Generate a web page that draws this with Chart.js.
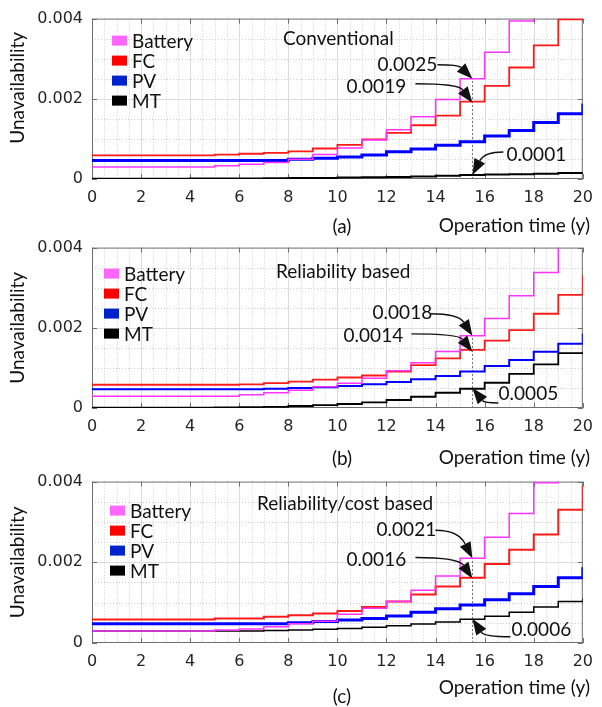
<!DOCTYPE html>
<html>
<head>
<meta charset="utf-8">
<script src="https://cdn.jsdelivr.net/npm/chart.js@4.4.1/dist/chart.umd.min.js"></script>
<style>
  html, body { margin: 0; padding: 0; background: #fff; }
  #page { position: relative; width: 602px; height: 707px; overflow: hidden; }
  #page canvas { position: absolute; left: 0; }
</style>
</head>
<body>
<div id="page">
  <canvas id="ca" width="602" height="244" style="top:0px"></canvas>
  <canvas id="cb" width="602" height="244" style="top:229px"></canvas>
  <canvas id="cc" width="602" height="244" style="top:463px"></canvas>
</div>
<script>
// Unavailability of each unit vs operation time, three maintenance strategies.
// Step values hold from year k to year k+1.
const years = [0, 1, 2, 3, 4, 5, 6, 7, 8, 9, 10, 11, 12, 13, 14, 15, 16, 17, 18, 19, 20];
const seriesNames = ["Battery", "FC", "PV", "MT"];
const xTicks = [0, 2, 4, 6, 8, 10, 12, 14, 16, 18, 20];
const xTickLabels = ["0", "2", "4", "6", "8", "10", "12", "14", "16", "18", "20"];
const yTicks = [0, 0.002, 0.004];
const yTickLabels = ["0", "0.002", "0.004"];
const panelTitles = ["Conventional", "Reliability based", "Reliability/cost based"];
const panelTags = ["(a)", "(b)", "(c)"];
const markYear = 15.5;

// (a) conventional
const batteryA = [0.00030, 0.00030, 0.00030, 0.00030, 0.00030, 0.00033, 0.00037, 0.00041, 0.00049, 0.00061, 0.00077, 0.00097, 0.00123, 0.00155, 0.00198, 0.00250, 0.00316, 0.00394, 0.00480];
const fcA = [0.00059, 0.00059, 0.00059, 0.00059, 0.00059, 0.00061, 0.00063, 0.00065, 0.00069, 0.00076, 0.00085, 0.00099, 0.00115, 0.00134, 0.00158, 0.00193, 0.00232, 0.00278, 0.00333, 0.00398, 0.00460];
const pvA = [0.00046, 0.00046, 0.00046, 0.00046, 0.00046, 0.00046, 0.00046, 0.00046, 0.00049, 0.00052, 0.00055, 0.00060, 0.00068, 0.00075, 0.00084, 0.00093, 0.00107, 0.00121, 0.00141, 0.00163, 0.00188];
const mtA = [0.000005, 0.000006, 0.000007, 0.000008, 0.00001, 0.000012, 0.000015, 0.000018, 0.000022, 0.000028, 0.000035, 0.000043, 0.000052, 0.000065, 0.00008, 0.0001, 0.00011, 0.00012, 0.00013, 0.00015, 0.00017];
const marksA = [0.0025, 0.0019, 0.0001];
const markLabelsA = ["0.0025", "0.0019", "0.0001"];

// (b) reliability based
const batteryB = [0.00029, 0.00029, 0.00029, 0.00029, 0.00029, 0.00029, 0.00033, 0.00038, 0.00044, 0.00053, 0.00062, 0.00074, 0.00093, 0.00113, 0.00141, 0.00180, 0.00223, 0.00280, 0.00338, 0.00460];
const fcB = [0.00058, 0.00058, 0.00058, 0.00058, 0.00058, 0.00058, 0.00059, 0.00062, 0.00066, 0.00071, 0.00076, 0.00081, 0.00091, 0.00107, 0.00124, 0.00145, 0.00168, 0.00194, 0.00235, 0.00282, 0.00331];
const pvB = [0.00047, 0.00047, 0.00047, 0.00047, 0.00047, 0.00047, 0.00047, 0.00048, 0.00050, 0.00052, 0.00055, 0.00059, 0.00065, 0.00072, 0.00080, 0.00091, 0.00105, 0.00120, 0.00140, 0.00160, 0.00186];
const mtB = [0.00001, 0.00001, 0.00001, 0.00001, 0.00001, 0.000015, 0.00002, 0.00003, 0.00005, 0.00007, 0.00010, 0.00014, 0.00020, 0.00028, 0.00038, 0.00048, 0.00063, 0.00085, 0.00109, 0.00137, 0.00140];
const marksB = [0.0018, 0.0014, 0.0005];
const markLabelsB = ["0.0018", "0.0014", "0.0005"];

// (c) reliability/cost based
const batteryC = [0.00030, 0.00030, 0.00030, 0.00030, 0.00030, 0.00032, 0.00035, 0.00040, 0.00048, 0.00054, 0.00071, 0.00086, 0.00103, 0.00131, 0.00166, 0.00210, 0.00262, 0.00321, 0.00397, 0.00480];
const fcC = [0.00058, 0.00058, 0.00058, 0.00058, 0.00058, 0.00061, 0.00061, 0.00065, 0.00069, 0.00073, 0.00079, 0.00089, 0.00103, 0.00120, 0.00140, 0.00162, 0.00196, 0.00231, 0.00269, 0.00330, 0.00390];
const pvC = [0.00048, 0.00048, 0.00048, 0.00048, 0.00048, 0.00048, 0.00048, 0.00048, 0.00050, 0.00053, 0.00057, 0.00061, 0.00067, 0.00076, 0.00085, 0.00094, 0.00107, 0.00122, 0.00140, 0.00162, 0.00188];
const mtC = [0.00030, 0.00030, 0.00030, 0.00030, 0.00030, 0.00030, 0.00030, 0.00031, 0.00032, 0.00034, 0.00036, 0.00039, 0.00043, 0.00047, 0.00052, 0.00059, 0.00066, 0.00076, 0.00089, 0.00103, 0.00110];
const marksC = [0.0021, 0.0016, 0.0006];
const markLabelsC = ["0.0021", "0.0016", "0.0006"];

const lineColors = ["#ff33ff", "#ff1a1a", "#0000ff", "#000000"];
const patchColors = ["#ff66ff", "#ff0000", "#0022cc", "#000000"];
const TEXT = "19px Lato";

// layout per panel: offsets are px relative to the plot box
const panels = [
  { canvas: "ca", series: [batteryA, fcA, pvA, mtA], widths: [1.5, 1.8, 3, 2], plotBottom: 179,
    marks: marksA, markLabels: markLabelsA,
    markOffsets: [[-65, -14, -35, -14], [-96, -16, -57, -19], [64, -20, 31, -23]],
    titleAt: [283, 20], legendAt: [112, 22], yTitleShift: -11, xTitleDy: 47, tagDy: 48 },
  { canvas: "cb", series: [batteryB, fcB, pvB, mtB], widths: [1.5, 1.8, 2, 1.8], plotBottom: 179,
    marks: marksB, markLabels: markLabelsB,
    markOffsets: [[-70, -23, -42, -22], [-99, -16, -61, -18], [56, 6, 26, 15]],
    titleAt: [276, 24], legendAt: [104, 26], yTitleShift: 0, xTitleDy: 50, tagDy: 51 },
  { canvas: "cc", series: [batteryC, fcC, pvC, mtC], widths: [1.5, 2, 3, 1.5], plotBottom: 180,
    marks: marksC, markLabels: markLabelsC,
    markOffsets: [[-66, -28, -37, -28], [-96, -19, -57, -21], [69, 11, 38, 18]],
    titleAt: [257, 22], legendAt: [110, 29], yTitleShift: 0, xTitleDy: 45, tagDy: 54 },
];

function seg(ctx, x1, y1, x2, y2) {
  ctx.beginPath(); ctx.moveTo(x1, y1); ctx.lineTo(x2, y2); ctx.stroke();
}

function arrow(ctx, sx, sy, tx, ty) {
  const cx = tx + (sx > tx ? 12 : -14);
  const cy = sy;
  const ang = Math.atan2(ty - cy, tx - cx);
  const L = 16, W = 6;
  const bx = tx - L * Math.cos(ang), by = ty - L * Math.sin(ang);
  ctx.beginPath(); ctx.moveTo(sx, sy); ctx.quadraticCurveTo(cx, cy, bx, by); ctx.stroke();
  ctx.beginPath();
  ctx.moveTo(tx, ty);
  ctx.lineTo(bx + W * Math.sin(ang), by - W * Math.cos(ang));
  ctx.lineTo(bx - W * Math.sin(ang), by + W * Math.cos(ang));
  ctx.closePath(); ctx.fill();
}

const deco = {
  id: "deco",
  beforeDatasetsDraw(chart, args, o) {
    const { ctx, chartArea: ca, scales: { x, y } } = chart;
    ctx.save();
    ctx.lineWidth = 1;
    // minor grid, dotted
    ctx.strokeStyle = "#cdcdcd";
    ctx.setLineDash([1, 2]);
    for (let v = 0.5; v < 20; v += 0.5) {
      if (v % 2 === 0) continue;
      const px = Math.round(x.getPixelForValue(v)) + 0.5;
      seg(ctx, px, ca.top, px, ca.bottom);
    }
    for (let k = 1; k < 8; k++) {
      if (k === 4) continue;
      const py = Math.round(y.getPixelForValue(k * 0.0005)) + 0.5;
      seg(ctx, ca.left, py, ca.right, py);
    }
    // major grid
    ctx.setLineDash([]);
    ctx.strokeStyle = "#dcdcdc";
    for (let v = 2; v < 20; v += 2) {
      const px = Math.round(x.getPixelForValue(v)) + 0.5;
      seg(ctx, px, ca.top, px, ca.bottom);
    }
    const pmid = Math.round(y.getPixelForValue(0.002)) + 0.5;
    seg(ctx, ca.left, pmid, ca.right, pmid);
    // guide at the marked year
    ctx.strokeStyle = "#777";
    ctx.setLineDash([2, 2]);
    const gx = Math.round(x.getPixelForValue(markYear)) + 0.5;
    seg(ctx, gx, y.getPixelForValue(0), gx, y.getPixelForValue(Math.max(...o.marks)));
    // frame and inward ticks
    ctx.setLineDash([]);
    ctx.strokeStyle = "#6e6e6e";
    ctx.strokeRect(ca.left + 0.5, ca.top + 0.5, ca.width - 1, ca.height - 1);
    xTicks.forEach((v) => {
      const px = Math.round(x.getPixelForValue(v)) + 0.5;
      seg(ctx, px, ca.bottom, px, ca.bottom - 5);
      seg(ctx, px, ca.top, px, ca.top + 5);
    });
    yTicks.forEach((v) => {
      const py = Math.round(y.getPixelForValue(v)) + 0.5;
      seg(ctx, ca.left, py, ca.left + 5, py);
      seg(ctx, ca.right, py, ca.right - 5, py);
    });
    ctx.restore();
  },
  afterDraw(chart, args, o) {
    const { ctx, chartArea: ca, scales: { x, y } } = chart;
    ctx.save();
    ctx.fillStyle = "#111";
    ctx.strokeStyle = "#111";
    ctx.font = TEXT;
    ctx.textBaseline = "middle";
    // annotations with curved arrows
    ctx.lineWidth = 1.4;
    const tx = x.getPixelForValue(markYear);
    o.marks.forEach((v, i) => {
      const ty = y.getPixelForValue(v);
      const [dx, dy, sx, sy] = o.markOffsets[i];
      ctx.textAlign = "center";
      ctx.fillText(o.markLabels[i], tx + dx, ty + dy);
      arrow(ctx, tx + sx, ty + sy, tx, ty);
    });
    // panel title
    ctx.textAlign = "left";
    ctx.fillText(o.title, o.titleAt[0], ca.top + o.titleAt[1]);
    // legend
    chart.data.datasets.forEach((ds, i) => {
      const ly = ca.top + o.legendAt[1] + i * 20;
      ctx.fillStyle = ds.patchColor;
      ctx.fillRect(o.legendAt[0], ly - 5, 15, 10);
      ctx.fillStyle = "#111";
      ctx.fillText(ds.label, o.legendAt[0] + 20, ly + 1);
    });
    // axis titles and tag
    ctx.textAlign = "right";
    ctx.fillText("Operation time (y)", 590, ca.bottom + o.xTitleDy);
    ctx.textAlign = "center";
    ctx.fillText(o.tag, 342, ca.bottom + o.tagDy);
    ctx.translate(18, (ca.top + ca.bottom) / 2 + o.yTitleShift);
    ctx.rotate(-Math.PI / 2);
    ctx.fillText("Unavailability", 0, 0);
    ctx.restore();
  },
};

panels.forEach((p, pi) => {
  const datasets = p.series.map((vals, si) => ({
    label: seriesNames[si],
    data: vals.map((v, k) => ({ x: years[k], y: v })),
    borderColor: lineColors[si],
    patchColor: patchColors[si],
    borderWidth: p.widths[si],
    stepped: "before",
    pointRadius: 0,
    fill: false,
  }));
  new Chart(document.getElementById(p.canvas), {
    type: "line",
    data: { datasets },
    options: {
      responsive: false,
      animation: false,
      layout: { padding: { top: 15, right: 11, left: 0, bottom: 0 } },
      plugins: {
        legend: { display: false },
        tooltip: { enabled: false },
        deco: {
          marks: p.marks, markLabels: p.markLabels, markOffsets: p.markOffsets,
          title: panelTitles[pi], tag: panelTags[pi], titleAt: p.titleAt, legendAt: p.legendAt,
          yTitleShift: p.yTitleShift, xTitleDy: p.xTitleDy, tagDy: p.tagDy,
        },
      },
      scales: {
        x: {
          type: "linear", min: 0, max: 20,
          afterBuildTicks: (s) => { s.ticks = xTicks.map((v) => ({ value: v })); },
          afterFit: (s) => { s.height = 244 - p.plotBottom; },
          ticks: { font: { family: "DejaVu Sans", size: 16 }, color: "#262626", padding: 9,
                   maxRotation: 0, autoSkip: false, callback: (v, i) => xTickLabels[i] },
          grid: { display: false, drawTicks: false },
          border: { display: false },
        },
        y: {
          type: "linear", min: 0, max: 0.004,
          afterBuildTicks: (s) => { s.ticks = yTicks.map((v) => ({ value: v })); },
          afterFit: (s) => { s.width = 92; },
          ticks: { font: { family: "DejaVu Sans", size: 16 }, color: "#262626", padding: 9,
                   callback: (v, i) => yTickLabels[i] },
          grid: { display: false, drawTicks: false },
          border: { display: false },
        },
      },
    },
    plugins: [deco],
  });
});
</script>
</body>
</html>
